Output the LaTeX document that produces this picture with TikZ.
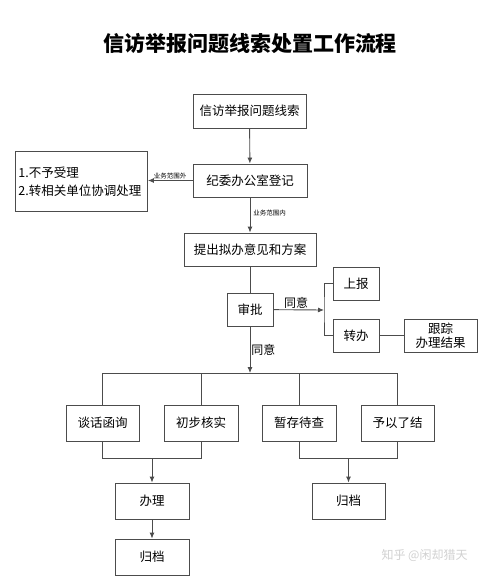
\documentclass[tikz,border=0pt]{standalone}
\usepackage{fontspec}
\setmainfont{Noto Sans CJK SC}
\newfontfamily\cjkbold{Noto Sans CJK SC}[FakeBold=0]
\usetikzlibrary{arrows.meta}
\begin{document}
\begin{tikzpicture}[x=1pt,y=-1pt,
  box/.style={draw=black!70, line width=0.9pt, fill=white, inner sep=0pt, font=\fontsize{12.5}{15}\selectfont},
  ln/.style={draw=black!70, line width=0.9pt},
  arr/.style={ln, -{Latex[length=6pt,width=5pt]}},
  small/.style={font=\fontsize{6.5}{8}\selectfont, inner sep=1pt},
  lab/.style={font=\fontsize{12}{14}\selectfont, inner sep=1pt}]
\useasboundingbox[fill=white] (0,0) rectangle (500,576);
\node[font=\bfseries\fontsize{21}{24}\selectfont] (title) at (250,43) {信访举报问题线索处置工作流程};
% main column
\node[box, minimum width=113pt, minimum height=34pt] (b1) at (249.5,111) {信访举报问题线索};
\node[box, minimum width=114pt, minimum height=33pt] (b2) at (250,180.5) {纪委办公室登记};
\node[box, minimum width=132pt, minimum height=60pt, align=left, anchor=north west, text width=126pt] (left) at (15,151) {1.不予受理\\[3pt]2.转相关单位协调处理};
\node[box, minimum width=132pt, minimum height=33pt] (b3) at (250,249.5) {提出拟办意见和方案};
\node[box, minimum width=46pt, minimum height=33pt] (sp) at (250,309.5) {审批};
\node[box, minimum width=46pt, minimum height=33pt] (sb) at (356,283.5) {上报};
\node[box, minimum width=46pt, minimum height=33pt] (zb) at (356,335.5) {转办};
\node[box, minimum width=73pt, minimum height=33pt, align=center, font=\fontsize{12.5}{14}\selectfont] (gz) at (440.5,335.5) {跟踪\\办理结果};
% row of four
\node[box, minimum width=73pt, minimum height=36pt] (t1) at (102.5,423) {谈话函询};
\node[box, minimum width=74pt, minimum height=36pt] (t2) at (201,423) {初步核实};
\node[box, minimum width=74pt, minimum height=36pt] (t3) at (299,423) {暂存待查};
\node[box, minimum width=73pt, minimum height=36pt] (t4) at (397.5,423) {予以了结};
\node[box, minimum width=74pt, minimum height=36pt] (bl) at (152,501) {办理};
\node[box, minimum width=74pt, minimum height=36pt] (gd1) at (152,557) {归档};
\node[box, minimum width=73pt, minimum height=36pt] (gd2) at (348.5,501) {归档};
% coordinates
\coordinate (bar) at (250,373);
\coordinate (br) at (324,310);
\coordinate (m1) at (152,458);
\coordinate (m2) at (348.5,458);
% connectors
\draw[arr] (b1) -- (b2);
\draw[arr] (b2) -- node[small, above, pos=0.5] {业务范围外} (left.east |- b2);
\draw[arr] (b2) -- node[small, right, pos=0.45, xshift=2pt] {业务范围内} (b3);
\draw[ln] (b3) -- (sp);
\draw[arr] (sp) -- node[lab, above, pos=0.45] {同意} (br);
\draw[ln] (sb.west) -| (br) |- (zb.west);
\draw[ln] (zb) -- (gz);
\draw[arr] (sp) -- node[lab, right, pos=0.5] {同意} (bar);
\draw[ln] (t1.north) |- (t4.north |- bar) -- (t4.north);
\draw[ln] (t2.north) -- (t2.north |- bar);
\draw[ln] (t3.north) -- (t3.north |- bar);
\draw[ln] (t1.south) |- (t2.south |- m1) -- (t2.south);
\draw[ln] (t3.south) |- (t4.south |- m2) -- (t4.south);
\draw[arr] (m1) -- (bl);
\draw[arr] (m2) -- (gd2);
\draw[arr] (bl) -- (gd1);
\node[text=black!18, font=\fontsize{12}{14}\selectfont, anchor=west] (wm) at (378,555) {知乎 @闲却猎天};
\end{tikzpicture}
\end{document}
